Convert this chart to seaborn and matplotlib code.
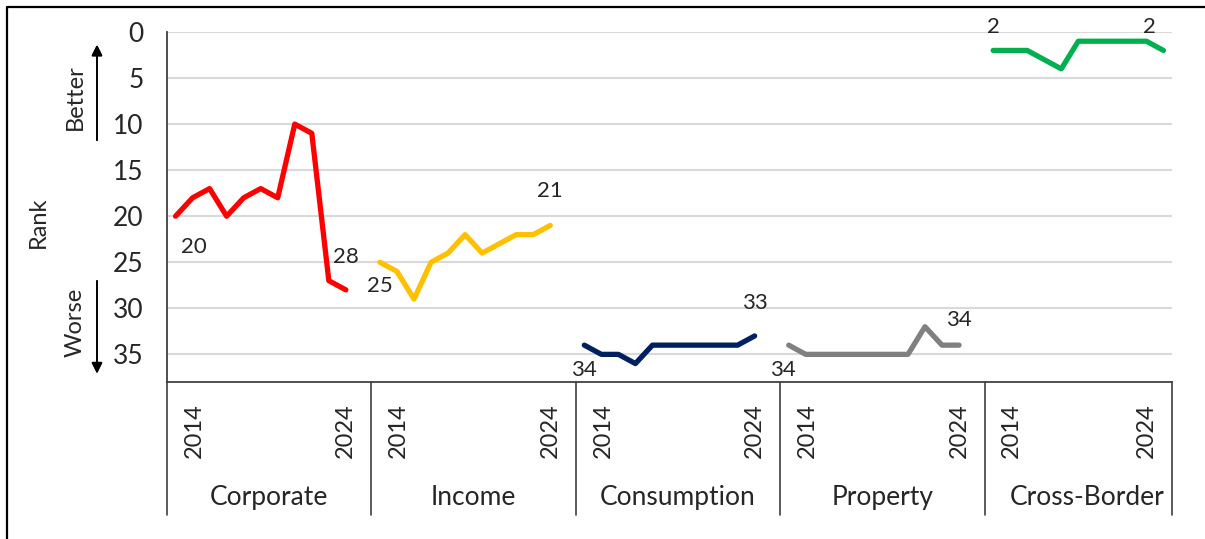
import numpy as np
import pandas as pd
import seaborn as sns
import matplotlib.pyplot as plt
from matplotlib.lines import Line2D
import matplotlib.transforms as mtransforms

# Rank by tax component, 2014-2024
groups = ['Corporate', 'Income', 'Consumption', 'Property', 'Cross-Border']
years = list(range(2014, 2025))
corporate = [20, 18, 17, 20, 18, 17, 18, 10, 11, 27, 28]
income = [25, 26, 29, 25, 24, 22, 24, 23, 22, 22, 21]
consumption = [34, 35, 35, 36, 34, 34, 34, 34, 34, 34, 33]
property_ = [34, 35, 35, 35, 35, 35, 35, 35, 32, 34, 34]
cross_border = [2, 2, 2, 3, 4, 1, 1, 1, 1, 1, 2]
colors = ['#FF0000', '#FFC000', '#002060', '#808080', '#00B050']

series = [corporate, income, consumption, property_, cross_border]
slots = len(years) + 1  # one empty slot between groups

rows = []
for g, (name, vals) in enumerate(zip(groups, series)):
    for j, (yr, v) in enumerate(zip(years, vals)):
        rows.append({'pos': g * slots + j, 'year': yr, 'rank': v, 'group': name})
df = pd.DataFrame(rows)

sns.set_theme(style='white')
plt.rcParams['font.family'] = ['Lato', 'DejaVu Sans']

fig = plt.figure(figsize=(12.05, 5.39), dpi=100)
ax = fig.add_axes([0.1386, 0.2913, 0.9726 - 0.1386, 0.9406 - 0.2913])

sns.lineplot(data=df, x='pos', y='rank', hue='group', hue_order=groups,
             palette=colors, lw=3.8, legend=False, ax=ax)

n_slots = len(groups) * slots - 1
ax.set_xlim(-0.5, n_slots - 0.5)
ax.set_ylim(38, 0)
ax.set_yticks(range(0, 36, 5))
ax.tick_params(axis='y', length=0, pad=17, labelsize=19)
ax.yaxis.grid(True, color='#D9D9D9', lw=1.5)
ax.set_axisbelow(True)
ax.set_xticks([])
ax.set_xlabel('')
ax.set_ylabel('')
for s in ['top', 'right']:
    ax.spines[s].set_visible(False)
for s in ['left', 'bottom']:
    ax.spines[s].set_color('#404040')
    ax.spines[s].set_linewidth(1.3)

# category axis: years and group names
trans = mtransforms.blended_transform_factory(ax.transData, ax.transAxes)
for g, name in enumerate(groups):
    start = g * slots
    last_shift = -1.0 if g == len(groups) - 1 else 0.0
    ax.text(start + 1.1, -0.06, str(years[0]), rotation=90, ha='center', va='top',
            fontsize=17, transform=trans)
    ax.text(start + len(years) - 1 + last_shift, -0.06, str(years[-1]), rotation=90,
            ha='center', va='top', fontsize=17, transform=trans)
    ax.text(start + slots / 2 - 0.5, -0.33, name, ha='center', va='center',
            fontsize=19, transform=trans)
for g in range(len(groups) + 1):
    x = min(g * slots, n_slots) - 0.5
    ax.add_line(Line2D([x, x], [0, -0.38], transform=trans, color='#404040',
                       lw=1.2, clip_on=False))

# first / last value labels
first_off = [(13, -22), (0, -17), (0, -18), (-4, -18), (0, 17)]
last_off = [(0, 24), (0, 25), (0, 24), (0, 18), (-10, 17)]
for g, vals in enumerate(series):
    x0 = g * slots
    x1 = g * slots + len(vals) - 1
    ax.annotate(str(vals[0]), (x0, vals[0]), xytext=first_off[g],
                textcoords='offset points', ha='center', va='center', fontsize=16)
    ax.annotate(str(vals[-1]), (x1, vals[-1]), xytext=last_off[g],
                textcoords='offset points', ha='center', va='center', fontsize=16)

# y axis titles and direction arrows
fig.text(0.0315, 0.588, 'Rank', rotation=90, ha='center', va='center', fontsize=17)
fig.text(0.0622, 0.82, 'Better', rotation=90, ha='center', va='center', fontsize=17)
fig.text(0.0622, 0.401, 'Worse', rotation=90, ha='center', va='center', fontsize=17)
arrow = dict(arrowstyle='-|>', color='black', lw=1.2, mutation_scale=16)
fig.add_artist(plt.annotate('', xy=(0.0805, 0.922), xytext=(0.0805, 0.7347),
                            xycoords='figure fraction', arrowprops=arrow))
fig.add_artist(plt.annotate('', xy=(0.0805, 0.302), xytext=(0.0805, 0.484),
                            xycoords='figure fraction', arrowprops=arrow))

# outer frame (left and top edges)
fig.add_artist(Line2D([0.0058, 0.0058, 1.0], [0.0, 0.987, 0.987],
                      transform=fig.transFigure, color='black', lw=1.6))

fig.savefig('out.png', dpi=100)
